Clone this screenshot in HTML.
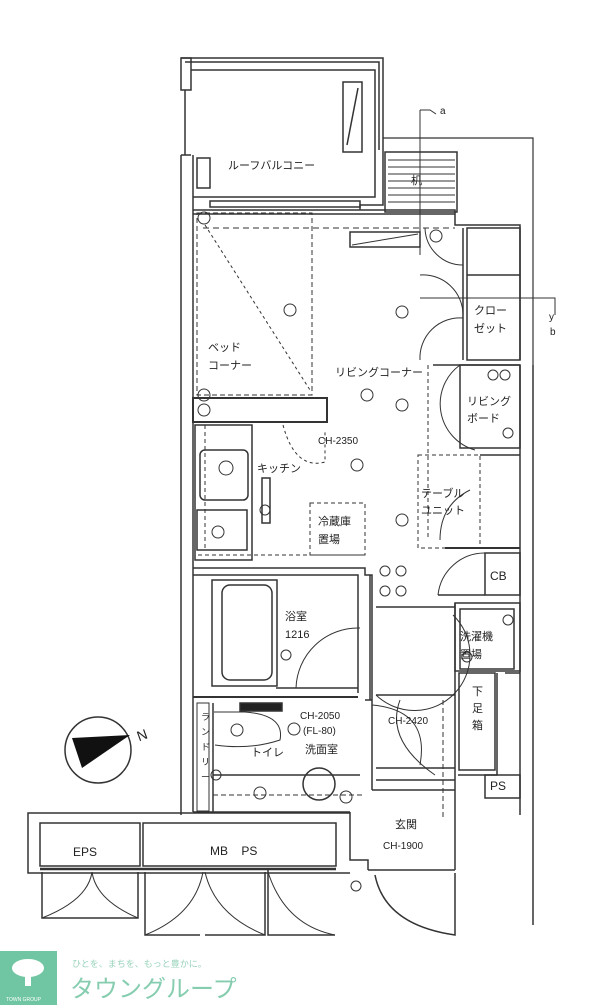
<!DOCTYPE html>
<html><head><meta charset="utf-8"><style>
html,body{margin:0;padding:0;background:#fff;}
svg{display:block;}
text{font-family:"Liberation Sans","Noto Sans CJK JP",sans-serif;fill:#222;}
</style></head><body>
<svg width="600" height="1005" viewBox="0 0 600 1005" xmlns="http://www.w3.org/2000/svg">
<g fill="none" stroke="#333" stroke-width="1.5">
<!-- balcony -->
<path d="M181 58 H383 V150"/>
<path d="M185 62 H379 V150"/>
<path d="M191 70 H375 V197 H193"/>
<rect x="181" y="58" width="10" height="32"/>
<line x1="185" y1="90" x2="185" y2="155"/>
<rect x="197" y="158" width="13" height="30"/>
<rect x="343" y="82" width="19" height="70"/>
<line x1="358" y1="88" x2="347" y2="145"/>
<path d="M383 150 V205 H360 V210"/>
<rect x="210" y="201" width="150" height="6"/>
<!-- step area -->
<rect x="385" y="152" width="72" height="60"/>
<g stroke-width="1">
<line x1="388" y1="160" x2="455" y2="160"/><line x1="388" y1="167" x2="455" y2="167"/>
<line x1="388" y1="174" x2="455" y2="174"/><line x1="388" y1="181" x2="455" y2="181"/>
<line x1="388" y1="188" x2="455" y2="188"/><line x1="388" y1="195" x2="455" y2="195"/>
<line x1="388" y1="202" x2="455" y2="202"/>
</g>
<!-- section lines -->
<path d="M420 110 V255" stroke-width="1"/>
<path d="M420 110 H430 L436 114" stroke-width="1"/>
<path d="M383 138 H533 V365" stroke-width="1.2"/>
<path d="M420 298 H555 V315" stroke-width="1"/>
<!-- main outer walls -->
<path d="M181 155 V815"/>
<path d="M193 155 V812"/>
<path d="M181 155 H191"/>
<path d="M193 210 H455 V225 H520 V360"/>
<path d="M193 214 H455"/>
<path d="M520 365 V815" />
<path d="M533 365 V925"/>
<!-- closet -->
<rect x="467" y="228" width="53" height="132"/>
<line x1="467" y1="275" x2="520" y2="275"/>
<line x1="463" y1="228" x2="463" y2="360"/>
<path d="M420 275 A40 40 0 0 1 463 315" stroke-width="1"/>
<path d="M420 360 A40 40 0 0 1 463 318" stroke-width="1"/>
<path d="M425 228 A38 38 0 0 0 463 265" stroke-width="1"/>
<!-- bed -->
<rect x="197" y="213" width="115" height="182" stroke-dasharray="5 3" stroke-width="1"/>
<path d="M203 228 H455" stroke-dasharray="6 4" stroke-width="1"/>
<line x1="205" y1="225" x2="310" y2="390" stroke-dasharray="3 3" stroke-width="1"/>
<rect x="350" y="232" width="70" height="15"/>
<line x1="352" y1="245" x2="418" y2="234" stroke-width="1"/>
<!-- counter wall -->
<rect x="193" y="398" width="134" height="24" stroke-width="2"/>
<path d="M283 425 Q295 470 325 462 V430" stroke-dasharray="3 3" stroke-width="1"/>
<!-- kitchen -->
<rect x="195" y="425" width="57" height="135"/>
<rect x="200" y="450" width="48" height="50" rx="5"/>
<rect x="197" y="510" width="50" height="40"/>
<rect x="262" y="478" width="8" height="45"/>
<line x1="205" y1="425" x2="205" y2="550" stroke-dasharray="4 3" stroke-width="1"/>
<rect x="310" y="503" width="55" height="52" stroke-dasharray="4 3" stroke-width="1"/>
<path d="M198 555 H365" stroke-dasharray="4 3" stroke-width="1"/>
<!-- living board -->
<path d="M433 365 H520" />
<rect x="460" y="365" width="60" height="83"/>
<path d="M460 365 A48 48 0 0 0 475 450" stroke-width="1"/>
<line x1="428" y1="365" x2="428" y2="540" stroke-dasharray="4 3" stroke-width="1"/>
<rect x="418" y="455" width="62" height="93" stroke-dasharray="4 3" stroke-width="1"/>
<line x1="480" y1="455" x2="520" y2="455"/>
<path d="M440 540 Q440 505 470 490" stroke-width="1"/>
<line x1="445" y1="548" x2="520" y2="548" stroke-width="2"/>
<!-- CB -->
<rect x="485" y="553" width="35" height="42"/>
<path d="M438 595 A47 47 0 0 1 485 553" stroke-width="1"/>
<line x1="438" y1="595" x2="485" y2="595"/>
<!-- bath -->
<path d="M193 568 H365 V575 H372 V600"/>
<path d="M193 575 H358 V693"/>
<rect x="212" y="580" width="65" height="106"/>
<rect x="222" y="585" width="50" height="95" rx="8"/>
<line x1="276" y1="688" x2="358" y2="688"/>
<path d="M296 688 A62 62 0 0 1 360 628" stroke-width="1"/>
<line x1="193" y1="697" x2="358" y2="697" stroke-width="2"/>
<!-- washroom -->
<path d="M370 575 V700"/>
<path d="M372 600 V790"/>
<rect x="197" y="703" width="12" height="108" stroke-width="1"/>
<line x1="213" y1="703" x2="213" y2="812"/>
<rect x="240" y="703" width="42" height="8" fill="#222"/>
<path d="M214 712 H245 Q285 715 280 740 Q250 750 215 745" stroke-width="1"/>
<line x1="213" y1="775" x2="360" y2="775"/>
<path d="M213 795 H365" stroke-dasharray="5 3" stroke-width="1"/>
<circle cx="319" cy="784" r="16"/>
<line x1="193" y1="812" x2="350" y2="812"/>
<path d="M350 812 V860 H368 V870"/>
<path d="M365 700 H372"/>
<!-- hall -->
<line x1="376" y1="607" x2="455" y2="607"/>
<line x1="376" y1="695" x2="455" y2="695"/>
<path d="M376 695 A55 55 0 0 0 453 615" stroke-width="1"/>
<path d="M372 705 Q430 710 420 765" stroke-width="1"/>
<path d="M400 700 Q385 740 435 775" stroke-width="1"/>
<line x1="376" y1="768" x2="455" y2="768"/>
<line x1="376" y1="780" x2="455" y2="780"/>
<line x1="443" y1="700" x2="443" y2="820" stroke-dasharray="5 3" stroke-width="1"/>
<!-- laundry -->
<rect x="455" y="603" width="65" height="68"/>
<rect x="460" y="609" width="54" height="60"/>
<rect x="459" y="673" width="36" height="97"/>
<path d="M497 673 V775 H458" />
<path d="M505 673 H520"/>
<rect x="485" y="775" width="35" height="23"/>
<path d="M455 603 V870"/>
<!-- entrance -->
<path d="M372 790 H455"/>
<line x1="368" y1="870" x2="455" y2="870"/>
<path d="M375 875 Q385 925 455 935 V873"/>
<!-- bottom storage -->
<path d="M350 813 H28 V873 H350"/>
<rect x="40" y="823" width="100" height="43"/>
<rect x="143" y="823" width="193" height="43"/>
<line x1="40" y1="869" x2="336" y2="869" stroke-width="2.5"/>
<path d="M42 872 V918 H90"/><path d="M92 872 Q88 900 42 918" stroke-width="1"/>
<path d="M138 872 V918 H90"/><path d="M92 872 Q96 900 138 918" stroke-width="1"/>
<path d="M145 872 V935 H200"/><path d="M203 872 Q195 915 145 935" stroke-width="1"/>
<path d="M265 872 V935 H205"/><path d="M205 872 Q215 915 265 935" stroke-width="1"/>
<path d="M268 868 V935 H335"/><path d="M268 872 Q285 925 335 935" stroke-width="1"/>
<circle cx="356" cy="886" r="5" stroke-width="1"/>
<!-- fixture circles -->
<g stroke-width="1">
<circle cx="290" cy="310" r="6"/><circle cx="402" cy="312" r="6"/>
<circle cx="367" cy="395" r="6"/><circle cx="402" cy="405" r="6"/>
<circle cx="357" cy="465" r="6"/><circle cx="402" cy="520" r="6"/>
<circle cx="265" cy="510" r="5"/><circle cx="204" cy="218" r="6"/>
<circle cx="204" cy="395" r="6"/><circle cx="204" cy="410" r="6"/>
<circle cx="436" cy="236" r="6"/><circle cx="226" cy="468" r="7"/>
<circle cx="385" cy="571" r="5"/><circle cx="401" cy="571" r="5"/>
<circle cx="385" cy="591" r="5"/><circle cx="401" cy="591" r="5"/>
<circle cx="237" cy="730" r="6"/><circle cx="294" cy="729" r="6"/>
<circle cx="260" cy="793" r="6"/><circle cx="346" cy="797" r="6"/>
<circle cx="216" cy="775" r="5"/><circle cx="467" cy="657" r="5"/>
<circle cx="493" cy="375" r="5"/><circle cx="505" cy="375" r="5"/>
<circle cx="508" cy="433" r="5"/><circle cx="508" cy="620" r="5"/>
<circle cx="286" cy="655" r="5"/><circle cx="218" cy="532" r="6"/>
</g>
<!-- compass -->
<circle cx="98" cy="750" r="33"/>
</g>
<polygon points="72,738 130,735 82,768" fill="#111"/>
<!-- labels -->
<g font-size="11">
<text x="228" y="169">ルーフバルコニー</text>
<text x="411" y="184">机</text>
<text x="440" y="114" font-size="10">a</text>
<text x="549" y="320" font-size="10">y</text>
<text x="550" y="335" font-size="10">b</text>
<text x="474" y="314">クロー</text>
<text x="474" y="332">ゼット</text>
<text x="208" y="351">ベッド</text>
<text x="208" y="369">コーナー</text>
<text x="335" y="376">リビングコーナー</text>
<text x="467" y="405">リビング</text>
<text x="467" y="422">ボード</text>
<text x="318" y="444" font-size="10">CH-2350</text>
<text x="257" y="472">キッチン</text>
<text x="421" y="497">テーブル</text>
<text x="421" y="514">ユニット</text>
<text x="318" y="525">冷蔵庫</text>
<text x="318" y="543">置場</text>
<text x="490" y="580" font-size="12">CB</text>
<text x="285" y="620">浴室</text>
<text x="285" y="638">1216</text>
<text x="460" y="640">洗濯機</text>
<text x="460" y="658">置場</text>
<text x="300" y="719" font-size="10">CH-2050</text>
<text x="303" y="734" font-size="10">(FL-80)</text>
<text x="388" y="724" font-size="10">CH-2420</text>
<text x="305" y="753">洗面室</text>
<text x="251" y="756">トイレ</text>
<text x="490" y="790" font-size="12">PS</text>
<text x="395" y="828">玄関</text>
<text x="383" y="849" font-size="10">CH-1900</text>
<text x="73" y="856" font-size="12">EPS</text>
<text x="210" y="855" font-size="12">MB&#160;&#160;&#160;&#160;PS</text>
<text x="137" y="740" font-size="14" transform="rotate(-20 142 735)">N</text>
</g>
<g font-size="9"><text x="201" y="720">ラ</text><text x="201" y="735">ン</text><text x="201" y="750">ド</text><text x="201" y="765">リ</text><text x="201" y="780">ー</text></g>
<g font-size="11"><text x="472" y="695">下</text><text x="472" y="712">足</text><text x="472" y="729">箱</text></g>
<!-- logo -->
<rect x="0" y="951" width="57" height="54" fill="#70c6a2"/>
<ellipse cx="28" cy="968" rx="16" ry="9" fill="#fff"/>
<rect x="25" y="972" width="6" height="14" fill="#fff"/>
<text x="6" y="1001" font-size="5" style="fill:#fff">TOWN GROUP</text>
<text x="72" y="967" font-size="9" style="fill:#9ad3bb">ひとを、まちを、もっと豊かに。</text>
<text x="70" y="997" font-size="24" style="fill:#86cdb0">タウングループ</text>
</svg>
</body></html>
